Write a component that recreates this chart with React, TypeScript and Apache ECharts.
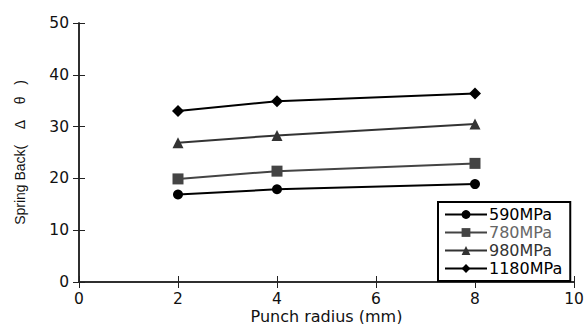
import React, { useEffect, useRef } from "react";
import * as echarts from "echarts";

const radius = [2, 4, 8];
const s590 = [16.9, 17.9, 18.9];
const s780 = [19.9, 21.4, 22.9];
const s980 = [26.9, 28.3, 30.5];
const s1180 = [33.0, 34.9, 36.4];
const seriesNames = ["590MPa", "780MPa", "980MPa", "1180MPa"];
const xTicks = [0, 2, 4, 6, 8, 10];
const yTicks = [0, 10, 20, 30, 40, 50];

const ARIAL = "'Liberation Sans', Arial, 'Noto Sans CJK JP', sans-serif";
const WIDE = "'DejaVu Sans', 'Liberation Sans', 'Noto Sans CJK JP', sans-serif";
const NB = "\u00A0";

export default function App() {
  const ref = useRef<HTMLDivElement>(null);
  useEffect(() => {
    if (!ref.current) return;
    const chart = echarts.init(ref.current, null, { renderer: "svg" });
    const pair = (ys: number[]) => radius.map((x, i) => [x, ys[i]]);
    const mk = (name: string, ys: number[], color: string, symbol: string, size: number) => ({
      name,
      type: "line",
      data: pair(ys),
      symbol,
      symbolSize: size,
      lineStyle: { color, width: 2 },
      itemStyle: { color },
      xAxisIndex: 0,
      yAxisIndex: 0,
    });
    const axisCommon = {
      axisLine: { show: true, lineStyle: { color: "#222", width: 1.5 } },
      axisTick: { show: true, inside: true, length: 6, lineStyle: { color: "#222", width: 1 } },
      splitLine: { show: false },
    };
    chart.setOption({
      animation: false,
      textStyle: { fontFamily: ARIAL },
      grid: { left: 79, right: 10, top: 23, bottom: 42, containLabel: false, outerBoundsMode: "none" },
      xAxis: [
        {
          type: "value",
          min: xTicks[0],
          max: xTicks[xTicks.length - 1],
          interval: 2,
          position: "bottom",
          name: "Punch radius (mm)",
          nameLocation: "middle",
          nameGap: 26,
          nameMoveOverlap: false,
          nameTextStyle: { fontSize: 16, lineHeight: 16, color: "#111", fontFamily: WIDE },
          axisLabel: { fontSize: 15.5, color: "#111", margin: 9, fontFamily: WIDE },
          ...axisCommon,
        },
        {
          type: "value",
          min: xTicks[0],
          max: xTicks[xTicks.length - 1],
          interval: 2,
          position: "top",
          axisLabel: { show: false },
          ...axisCommon,
        },
      ],
      yAxis: [
        {
          type: "value",
          min: yTicks[0],
          max: yTicks[yTicks.length - 1],
          interval: 10,
          position: "left",
          name: "Spring Back(" + NB.repeat(4) + "Δ" + NB.repeat(4) + "θ" + NB.repeat(3) + ")",
          nameLocation: "middle",
          nameGap: 52,
          nameMoveOverlap: false,
          nameRotate: 90,
          nameTextStyle: { fontSize: 14, color: "#111", fontFamily: ARIAL },
          axisLabel: { fontSize: 15.5, color: "#111", margin: 10, fontFamily: WIDE },
          ...axisCommon,
        },
        {
          type: "value",
          min: yTicks[0],
          max: yTicks[yTicks.length - 1],
          interval: 10,
          position: "right",
          axisLabel: { show: false },
          ...axisCommon,
        },
      ],
      legend: {
        data: [
          { name: seriesNames[0], textStyle: { color: "#000" } },
          { name: seriesNames[1], textStyle: { color: "#666" } },
          { name: seriesNames[2], textStyle: { color: "#333" } },
          { name: seriesNames[3], textStyle: { color: "#000" } },
        ],
        orient: "vertical",
        left: 438,
        top: 202,
        width: 130,
        itemWidth: 42,
        itemHeight: 11,
        itemGap: 1,
        padding: [4, 8, 4, 6],
        borderColor: "#000",
        borderWidth: 2,
        backgroundColor: "#fff",
        textStyle: { fontSize: 16, lineHeight: 17, fontFamily: WIDE, padding: [0, 0, 0, -3] },
      },
      series: [
        mk(seriesNames[0], s590, "#000", "circle", 10),
        mk(seriesNames[1], s780, "#444", "rect", 11),
        mk(seriesNames[2], s980, "#333", "triangle", 11),
        mk(seriesNames[3], s1180, "#000", "diamond", 12),
      ],
    });
    return () => chart.dispose();
  }, []);
  return <div ref={ref} style={{ width: 584, height: 324, position: "absolute", left: 0, top: 0 }} />;
}
